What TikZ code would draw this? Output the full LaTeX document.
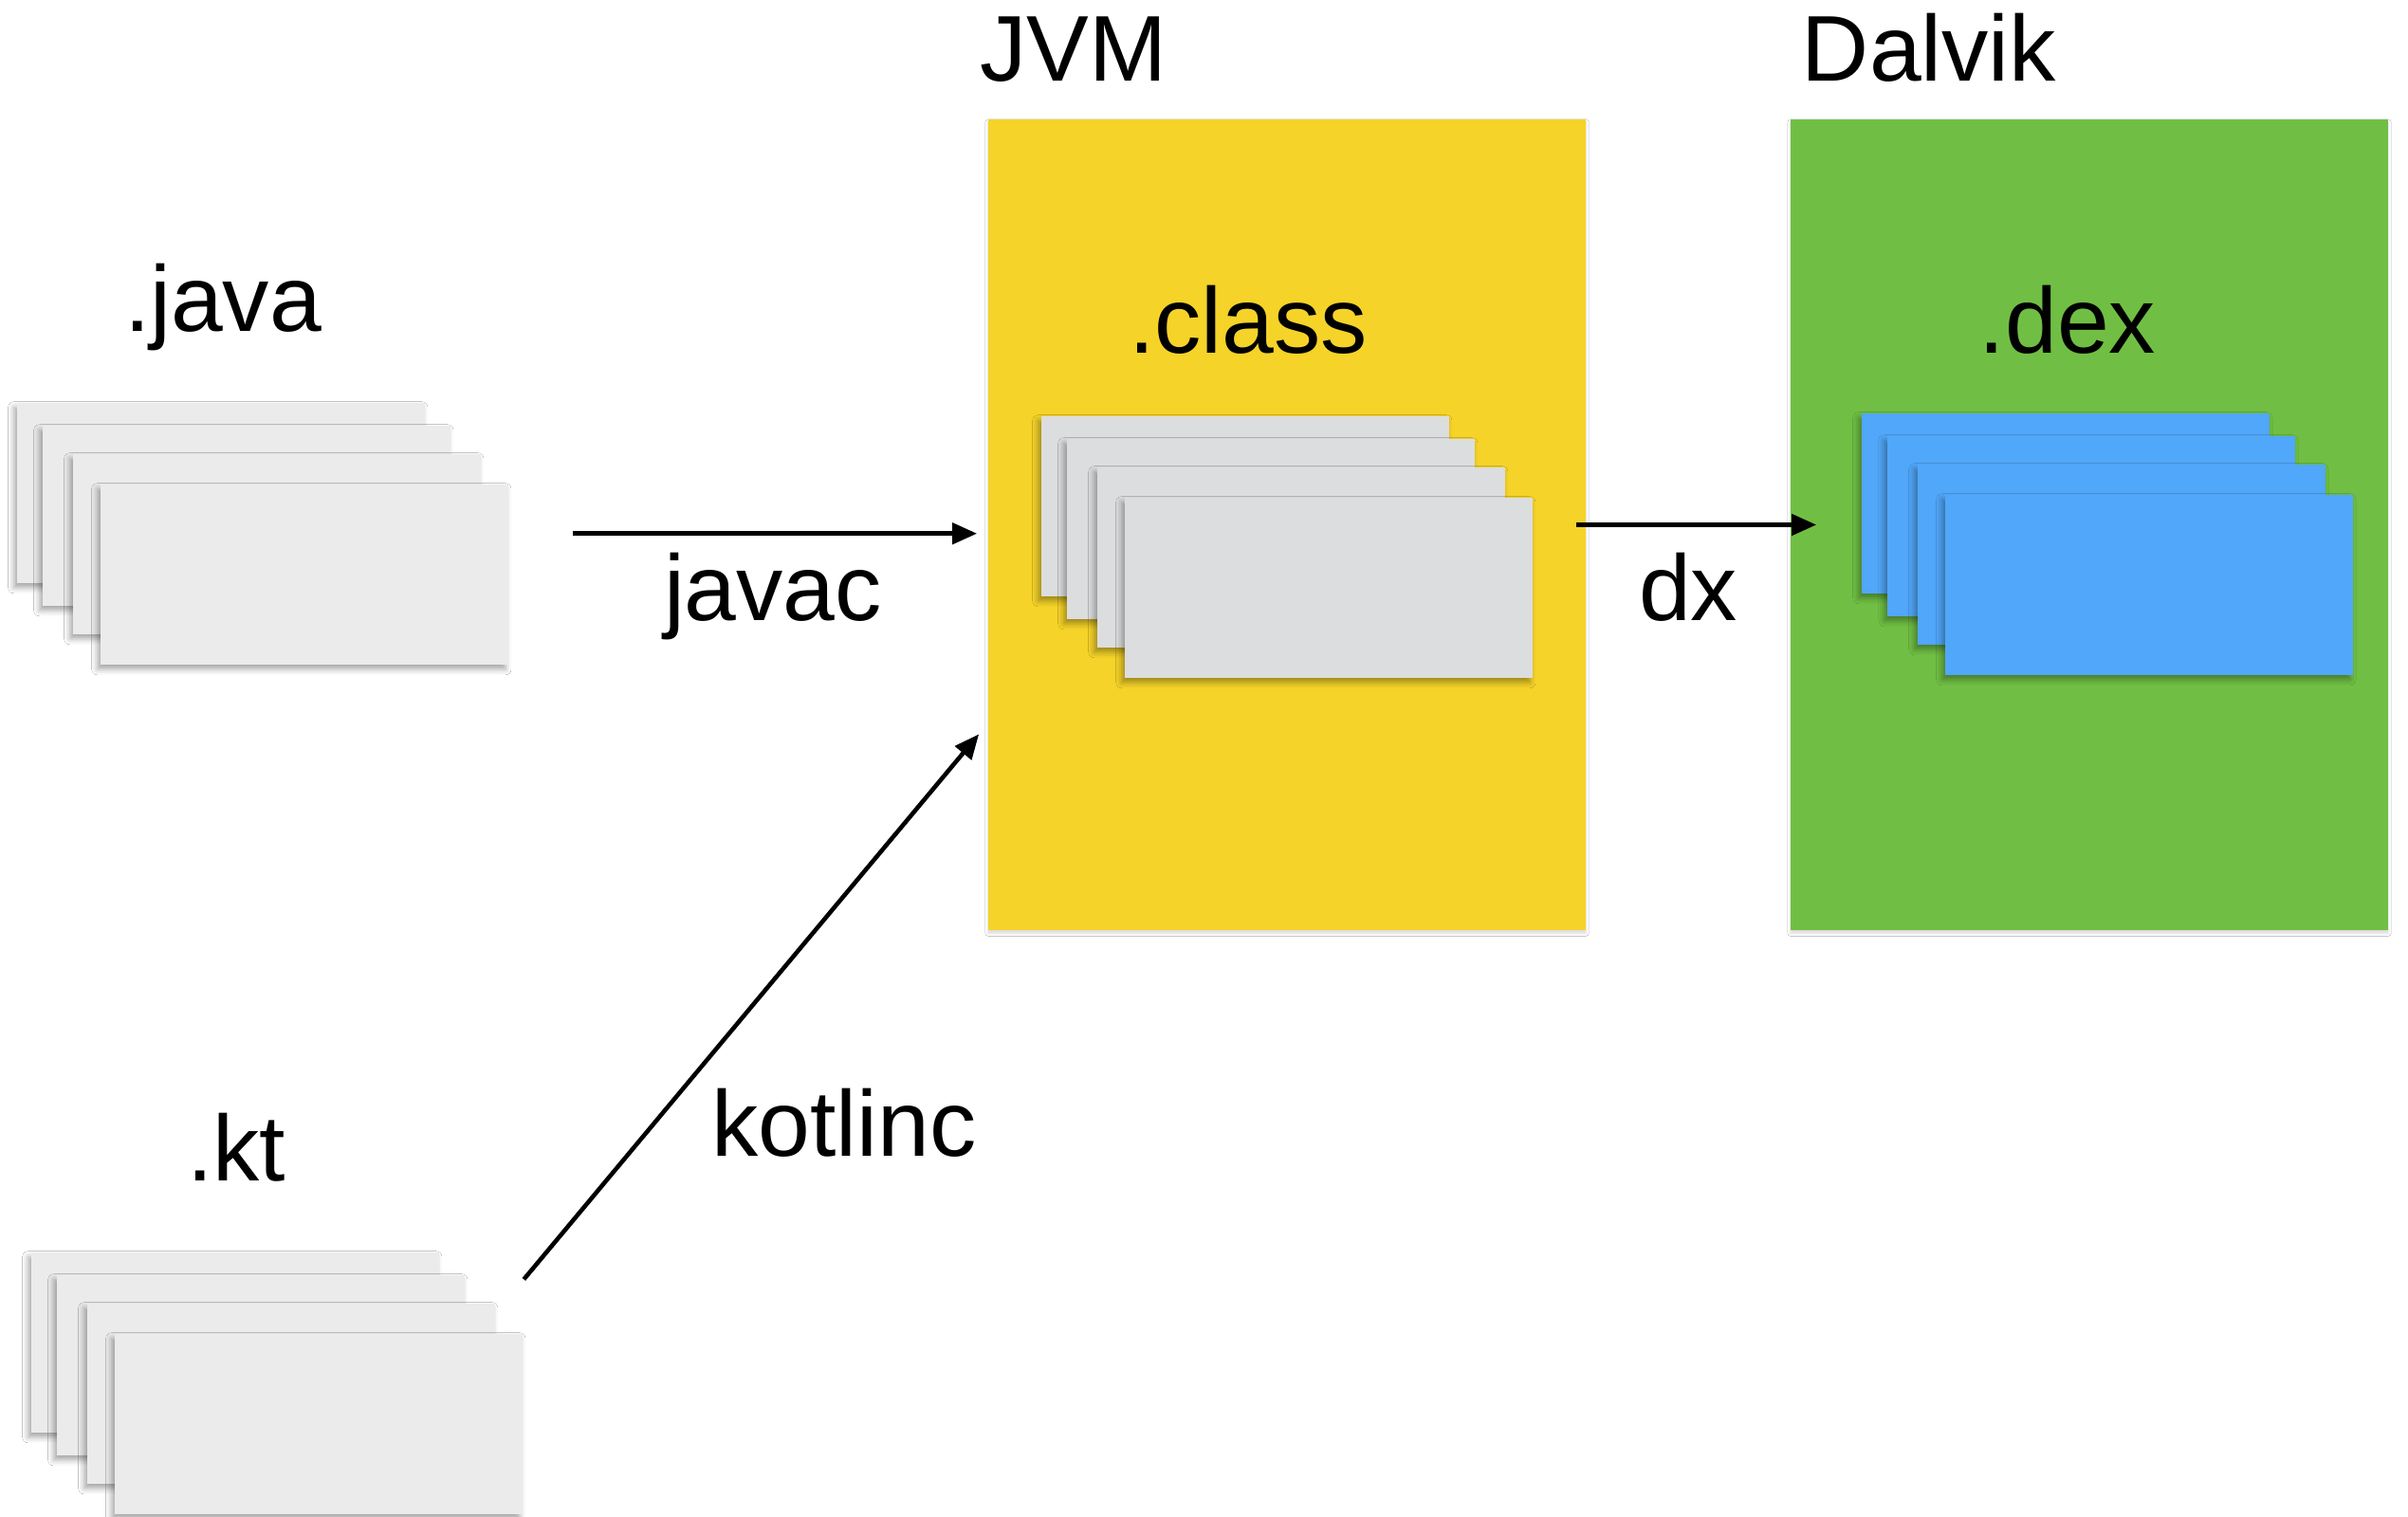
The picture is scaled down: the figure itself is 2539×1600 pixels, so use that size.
\documentclass[tikz,border=0pt]{standalone}
\usepackage{fontspec}
\setmainfont{Liberation Sans}
\usetikzlibrary{calc, positioning, fit, arrows.meta, shadows.blur}

\definecolor{jvmyellow}{RGB}{245,211,41}
\definecolor{dalvikgreen}{RGB}{112,191,68}
\definecolor{dexblue}{RGB}{81,167,249}
\definecolor{srcgray}{RGB}{235,235,235}
\definecolor{classgray}{RGB}{220,221,222}

\begin{document}
\begin{tikzpicture}[
        x=0.01cm, y=-0.01cm,
        box/.style = {inner sep=0, minimum width=6.3cm, minimum height=8.55cm,
            blur shadow={shadow xshift=0cm, shadow yshift=-0.03cm, shadow blur radius=0.03cm, shadow opacity=15}},
        sheet/.style = {inner sep=0, anchor=north west, minimum width=4.3cm, minimum height=1.9cm,
            blur shadow={shadow xshift=-0.03cm, shadow yshift=-0.05cm, shadow blur radius=0.06cm, shadow opacity=35}},
        lbl/.style = {inner sep=0, anchor=base, font=\fontsize{28pt}{34pt}\selectfont},
        arr/.style = {line width=1.3pt, -{Triangle[length=0.26cm, width=0.22cm]}}
    ]
    \useasboundingbox[fill=white] (0,0) rectangle (2539,1600);

    %Boxen
    \node (jvm)[box, fill=jvmyellow] at (1357,553.5) {};
    \node (dalvik)[box, fill=dalvikgreen] at (2203,553.5) {};

    %Stapel
    \foreach \name/\x/\y/\col in {java/17/424/srcgray, kt/32/1320/srcgray,
            class/1097/438/classgray, dex/1962/435/dexblue}{
        \foreach \i/\dx/\dy in {1/0/0, 2/27/24, 3/59/54, 4/88/86}
            \node (\name-\i)[sheet, fill=\col] at (\x+\dx,\y+\dy) {};
        \node (\name)[fit=(\name-1)(\name-4), inner sep=0] {};
    }

    %Beschriftung
    \node (jvm-lbl)[lbl] at (1132,86) {JVM};
    \node (dalvik-lbl)[lbl] at (2034,86) {Dalvik};
    \node (java-lbl)[lbl] at (235,349) {.java};
    \node (kt-lbl)[lbl] at (249,1245) {.kt};
    \node (class-lbl)[lbl] at (1316,373) {.class};
    \node (dex-lbl)[lbl] at (2180,373) {.dex};

    %Pfeile
    \coordinate (kt-out) at ([yshift=-0.3cm]kt.north east);
    \coordinate (jvm-in) at ([yshift=-2.1cm]jvm.west);
    \draw[arr, shorten <=0.67cm, shorten >=0.11cm] (java.east) -- (java.east -| jvm.west);
    \draw[arr, shorten <=-0.11cm, shorten >=-0.28cm] (jvm.east) -- (jvm.east -| dalvik.west);
    \draw[arr, shorten >=0.14cm] (kt-out) -- (jvm-in);
    \node (javac-lbl)[lbl] at (815,654) {javac};
    \node (dx-lbl)[lbl] at (1780,654) {dx};
    \node (kotlinc-lbl)[lbl] at (890,1219) {kotlinc};

\end{tikzpicture}
\end{document}
